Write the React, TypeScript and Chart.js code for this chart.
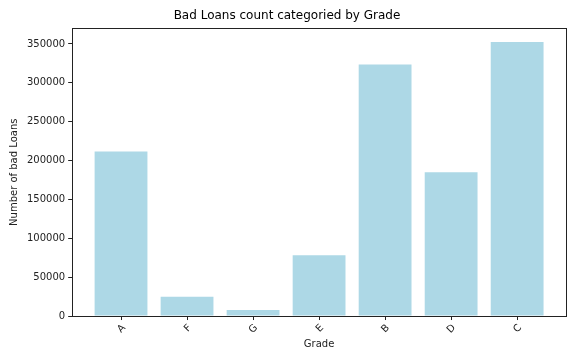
import React, { useEffect, useRef } from "react";
import { Chart, registerables } from "chart.js";

Chart.register(...registerables);

const categories = ["A", "F", "G", "E", "B", "D", "C"];
const badLoans = [211800, 24800, 7700, 78300, 323500, 184800, 352500];
const yTicks = [0, 50000, 100000, 150000, 200000, 250000, 300000, 350000];

const framePlugin = {
  id: "frame",
  afterDraw(chart: any) {
    const { ctx, chartArea } = chart;
    ctx.save();
    ctx.strokeStyle = "#222";
    ctx.lineWidth = 1;
    ctx.strokeRect(
      Math.round(chartArea.left) + 0.5,
      Math.round(chartArea.top) + 0.5,
      Math.round(chartArea.right - chartArea.left),
      Math.round(chartArea.bottom - chartArea.top)
    );
    ctx.restore();
  },
};

export default function App() {
  const ref = useRef<HTMLCanvasElement>(null);
  useEffect(() => {
    document.body.style.margin = "0";
    const font = { family: "DejaVu Sans", size: 10 };
    const chart = new Chart(ref.current!, {
      type: "bar",
      data: {
        datasets: [
          {
            data: badLoans.map((v, i) => ({ x: i, y: v })),
            backgroundColor: "#add8e6",
            borderWidth: 0,
            categoryPercentage: 1,
            barPercentage: 0.8,
          },
        ],
      },
      options: {
        animation: false,
        responsive: false,
        layout: { padding: { left: 8, right: 10, top: 0, bottom: 6 } },
        plugins: {
          legend: { display: false },
          tooltip: { enabled: false },
          title: {
            display: true,
            text: "Bad Loans count categoried by Grade",
            color: "#000",
            font: { family: "DejaVu Sans", size: 12, weight: "normal" },
            padding: { top: 9, bottom: 5 },
          },
        },
        scales: {
          x: {
            type: "linear",
            min: -0.74,
            max: 6.74,
            offset: false,
            grid: { drawOnChartArea: false, tickLength: 4, color: "#222", offset: false },
            border: { color: "#222" },
            afterBuildTicks: (axis: any) => {
              axis.ticks = categories.map((_, i) => ({ value: i }));
            },
            ticks: {
              autoSkip: false,
              maxRotation: 45,
              minRotation: 45,
              color: "#222",
              font,
              padding: 2,
              labelOffset: 3,
              callback: (v: any) => categories[v] ?? "",
            },
            title: {
              display: true,
              text: "Grade",
              color: "#222",
              font,
              padding: { top: 0, bottom: 4 },
            },
          },
          y: {
            min: 0,
            max: 370000,
            grid: { drawOnChartArea: false, tickLength: 4, color: "#222" },
            border: { color: "#222" },
            afterBuildTicks: (axis: any) => {
              axis.ticks = yTicks.map((v) => ({ value: v }));
            },
            ticks: { color: "#222", font, padding: 3, callback: (v: any) => String(v) },
            title: {
              display: true,
              text: "Number of bad Loans",
              color: "#222",
              font,
              padding: { top: 0, bottom: 4 },
            },
          },
        },
      },
      plugins: [framePlugin],
    });
    return () => chart.destroy();
  }, []);
  return (
    <div style={{ width: 576, height: 360 }}>
      <canvas ref={ref} width={576} height={360} />
    </div>
  );
}
